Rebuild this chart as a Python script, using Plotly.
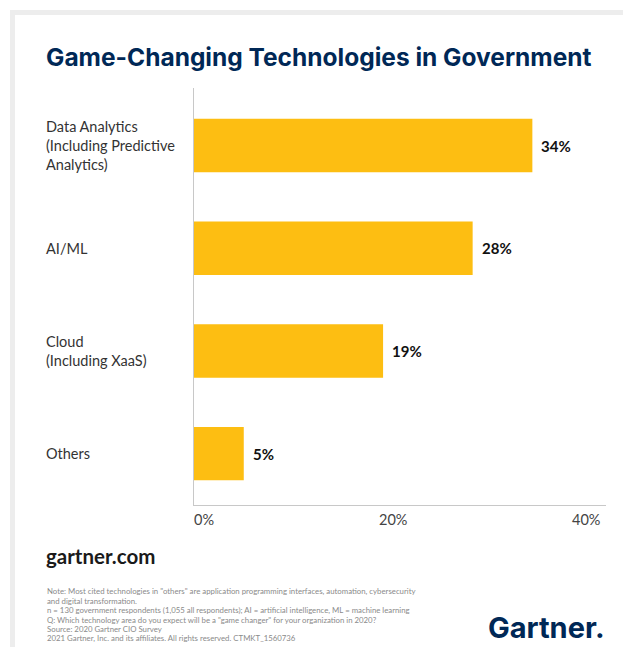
import plotly.graph_objects as go

categories = ["Data Analytics<br>(Including Predictive<br>Analytics)", "AI/ML", "Cloud<br>(Including XaaS)", "Others"]
values = [34, 28, 19, 5]
tick_values = [0, 20, 40]
tick_labels = ["0%", "20%", "40%"]

title = "Game-Changing Technologies in Government"
notes = [
    "Note: Most cited technologies in \"others\" are application programming interfaces, automation, cybersecurity",
    "and digital transformation.",
    "n = 130 government respondents (1,055 all respondents); AI = artificial intelligence, ML = machine learning",
    "Q: Which technology area do you expect will be a \"game changer\" for your organization in 2020?",
    "Source: 2020 Gartner CIO Survey",
    "2021 Gartner, Inc. and its affiliates. All rights reserved. CTMKT_1560736",
]

W, H = 623, 647
NAVY = "#002856"
YELLOW = "#FDBE12"
FONT = "Lato"

def px(x):
    return x / W

def py(y):
    return 1 - y / H

fig = go.Figure(go.Bar(
    x=values, y=list(range(len(categories))), orientation="h",
    marker=dict(color=YELLOW, line=dict(width=0)),
    width=0.52,
    hoverinfo="skip",
))

annotations = []
# category labels
for i, c in enumerate(categories):
    annotations.append(dict(
        x=px(44), xref="paper", y=i, yref="y", xanchor="left", yanchor="middle",
        text=c, align="left", showarrow=False,
        font=dict(family=FONT, size=14.5, color="#333333"),
    ))
# value labels
for i, v in enumerate(values):
    annotations.append(dict(
        x=v, xref="x", y=i, yref="y", xanchor="left", yanchor="middle",
        xshift=7, text=f"<b>{v}%</b>", showarrow=False,
        font=dict(family=FONT, size=15, color="#111111"),
    ))
# x tick labels
anchors = ["left", "center", "right"]
shifts = [-2, 0, 10]
for v, lab, a, s in zip(tick_values, tick_labels, anchors, shifts):
    annotations.append(dict(
        x=v, xref="x", y=py(519), yref="paper", xanchor=a, yanchor="middle",
        xshift=s, text=lab, showarrow=False,
        font=dict(family=FONT, size=14.5, color="#444444"),
    ))
# title
annotations.append(dict(
    x=px(44), y=py(57), xref="paper", yref="paper", xanchor="left", yanchor="middle",
    text=f"<b>{title}</b>", showarrow=False,
    font=dict(family="Inter", size=24.5, color=NAVY),
))
# gartner.com
annotations.append(dict(
    x=px(44), y=py(556), xref="paper", yref="paper", xanchor="left", yanchor="middle",
    text="<b>gartner.com</b>", showarrow=False,
    font=dict(family=FONT, size=20.5, color="#1a1a1a"),
))
# notes
note_y = [591, 600.5, 610, 619.5, 629, 638]
for t, yy in zip(notes, note_y):
    annotations.append(dict(
        x=px(45), y=py(yy), xref="paper", yref="paper", xanchor="left", yanchor="middle",
        text=t, showarrow=False,
        font=dict(family=FONT, size=7.8, color="#8a8a8a"),
    ))
# logo
annotations.append(dict(
    x=px(607), y=py(627), xref="paper", yref="paper", xanchor="right", yanchor="middle",
    text="<b>Gartner.</b>", showarrow=False,
    font=dict(family="Inter", size=29, color=NAVY),
))

shapes = [
    dict(type="rect", xref="paper", yref="paper", x0=px(10), x1=1, y0=py(15), y1=py(10),
         fillcolor="#ededed", line=dict(width=0), layer="below"),
    dict(type="rect", xref="paper", yref="paper", x0=px(10), x1=px(15), y0=0, y1=py(10),
         fillcolor="#ededed", line=dict(width=0), layer="below"),
]

fig.update_layout(
    width=W, height=H, margin=dict(l=0, r=0, t=0, b=0),
    paper_bgcolor="white", plot_bgcolor="white",
    showlegend=False,
    annotations=annotations, shapes=shapes,
    xaxis=dict(domain=[px(194), px(606)], range=[0, 41.4], showgrid=False, zeroline=False,
               showline=True, linecolor="#c8c8c8", linewidth=1, showticklabels=False,
               ticks="", fixedrange=True),
    yaxis=dict(domain=[py(505), py(88)], range=[3.5, -0.56], showgrid=False, zeroline=False,
               showline=True, linecolor="#c8c8c8", linewidth=1, showticklabels=False,
               ticks="", fixedrange=True),
)

fig.write_html("out.html")
